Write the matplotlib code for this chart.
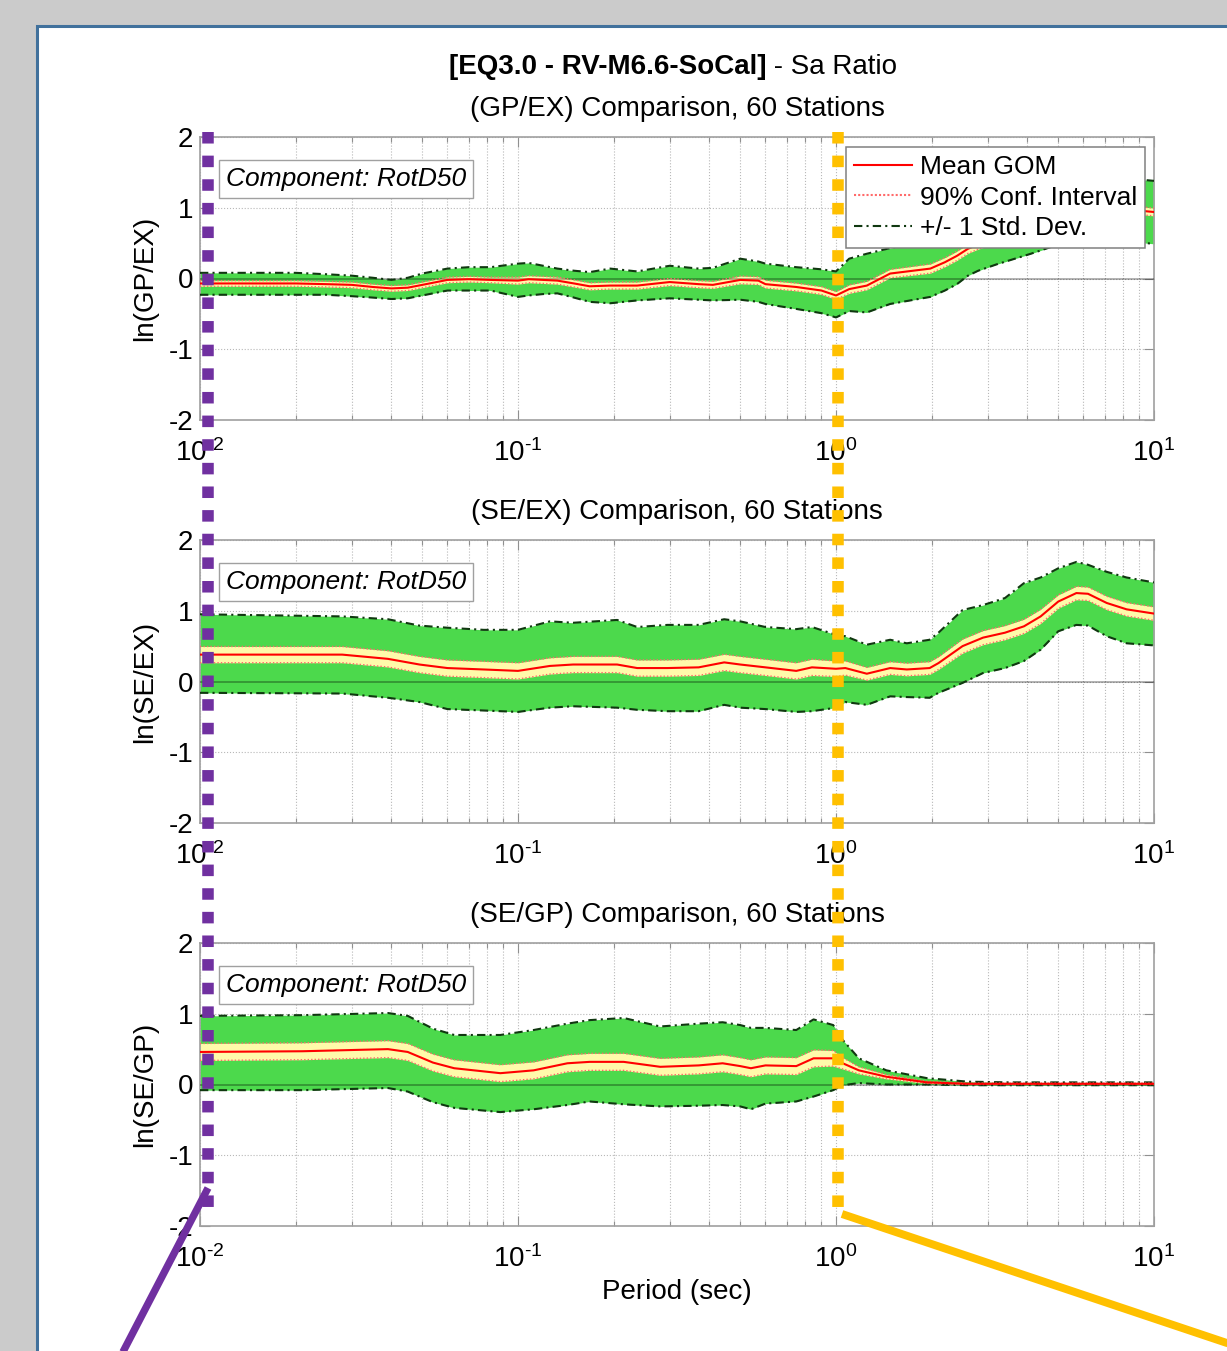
import matplotlib
matplotlib.use("Agg")
import matplotlib.pyplot as plt
from matplotlib.lines import Line2D
from matplotlib.patches import Rectangle
from matplotlib.ticker import LogLocator, NullFormatter

plt.rcParams["font.family"] = ["Liberation Sans", "DejaVu Sans"]
plt.rcParams["mathtext.fontset"] = "custom"
plt.rcParams["mathtext.rm"] = "Liberation Sans"
plt.rcParams["mathtext.it"] = "Liberation Sans:italic"
plt.rcParams["mathtext.bf"] = "Liberation Sans:bold"

# --- GP/EX ---
gpex_T = [0.01, 0.015, 0.02, 0.025, 0.03, 0.035, 0.04, 0.045, 0.05, 0.06, 0.07, 0.082,
          0.1, 0.108, 0.12, 0.133, 0.15, 0.168, 0.195, 0.237, 0.3, 0.37, 0.41, 0.5,
          0.57, 0.6, 0.75, 0.9, 1.0, 1.1, 1.25, 1.48, 1.98, 2.2, 2.4, 2.6, 2.8, 3.2,
          4.1, 5.0, 6.0, 7.0, 8.0, 10.0]
gpex_mean = [-0.07, -0.07, -0.07, -0.08, -0.09, -0.12, -0.14, -0.13, -0.09, -0.02, -0.01, -0.02,
             -0.03, -0.01, -0.02, -0.03, -0.07, -0.11, -0.10, -0.10, -0.05, -0.08, -0.09, -0.02,
             -0.03, -0.08, -0.12, -0.17, -0.24, -0.15, -0.10, 0.07, 0.14, 0.23, 0.32, 0.42, 0.48, 0.56,
             0.75, 0.92, 1.02, 1.02, 0.98, 0.94]
gpex_hi = [0.08, 0.08, 0.08, 0.06, 0.04, 0.01, -0.02, 0.01, 0.07, 0.14, 0.16, 0.16,
           0.21, 0.22, 0.18, 0.14, 0.11, 0.09, 0.14, 0.10, 0.18, 0.14, 0.15, 0.28,
           0.24, 0.21, 0.16, 0.13, 0.10, 0.28, 0.35, 0.43, 0.55, 0.65, 0.75, 0.85, 0.92, 1.00,
           1.20, 1.38, 1.48, 1.48, 1.42, 1.38]
gpex_lo = [-0.23, -0.23, -0.23, -0.23, -0.25, -0.27, -0.29, -0.28, -0.24, -0.17, -0.17, -0.17,
           -0.26, -0.24, -0.22, -0.21, -0.27, -0.33, -0.35, -0.31, -0.28, -0.30, -0.31, -0.30,
           -0.33, -0.36, -0.43, -0.49, -0.55, -0.46, -0.48, -0.36, -0.26, -0.17, -0.08, 0.04, 0.11, 0.20,
           0.35, 0.48, 0.57, 0.57, 0.53, 0.49]
gpex_ci = [0.04, 0.04, 0.04, 0.04, 0.04, 0.04, 0.04, 0.04, 0.04, 0.04, 0.04, 0.04,
           0.05, 0.05, 0.05, 0.05, 0.05, 0.05, 0.05, 0.05, 0.05, 0.05, 0.05, 0.055,
           0.055, 0.055, 0.055, 0.055, 0.055, 0.06, 0.06, 0.06, 0.065, 0.065, 0.065, 0.065, 0.065, 0.065,
           0.06, 0.06, 0.06, 0.06, 0.055, 0.055]

# --- SE/EX ---
seex_T = [0.01, 0.028, 0.039, 0.049, 0.06, 0.078, 0.1, 0.126, 0.149, 0.205, 0.237, 0.295,
          0.37, 0.445, 0.5, 0.6, 0.75, 0.84, 1.0, 1.07, 1.25, 1.48, 1.67, 1.97, 2.1,
          2.5, 2.9, 3.4, 3.9, 4.4, 5.0, 5.7, 6.2, 7.1, 8.2, 10.0]
seex_mean = [0.38, 0.38, 0.32, 0.24, 0.19, 0.17, 0.15, 0.22, 0.24, 0.24, 0.19, 0.19,
             0.20, 0.27, 0.24, 0.20, 0.15, 0.20, 0.18, 0.19, 0.11, 0.19, 0.17, 0.19, 0.26,
             0.50, 0.62, 0.69, 0.78, 0.92, 1.13, 1.25, 1.24, 1.11, 1.02, 0.96]
seex_hi = [0.95, 0.92, 0.88, 0.79, 0.76, 0.73, 0.73, 0.85, 0.83, 0.87, 0.77, 0.80,
           0.80, 0.88, 0.85, 0.77, 0.74, 0.77, 0.66, 0.64, 0.52, 0.59, 0.54, 0.59, 0.69,
           1.01, 1.08, 1.18, 1.39, 1.47, 1.60, 1.69, 1.65, 1.55, 1.47, 1.40]
seex_lo = [-0.16, -0.17, -0.23, -0.29, -0.39, -0.41, -0.43, -0.37, -0.35, -0.37, -0.40, -0.42,
           -0.42, -0.33, -0.37, -0.39, -0.43, -0.42, -0.37, -0.29, -0.33, -0.21, -0.22, -0.23, -0.16,
           -0.02, 0.12, 0.19, 0.29, 0.45, 0.71, 0.80, 0.79, 0.64, 0.54, 0.51]
seex_ci = [0.115, 0.115, 0.115, 0.115, 0.115, 0.115, 0.115, 0.115, 0.115, 0.115, 0.115, 0.115,
           0.115, 0.115, 0.115, 0.115, 0.115, 0.115, 0.11, 0.10, 0.09, 0.09, 0.09, 0.09, 0.09,
           0.10, 0.10, 0.10, 0.10, 0.10, 0.095, 0.095, 0.095, 0.095, 0.095, 0.095]

# --- SE/GP ---
segp_T = [0.01, 0.021, 0.039, 0.045, 0.054, 0.063, 0.088, 0.112, 0.143, 0.168, 0.215, 0.28,
          0.37, 0.44, 0.5, 0.54, 0.6, 0.75, 0.85, 0.98, 1.05, 1.18, 1.44, 1.93, 2.6,
          3.5, 5.0, 7.0, 10.0]
segp_mean = [0.46, 0.47, 0.50, 0.46, 0.31, 0.23, 0.16, 0.20, 0.30, 0.32, 0.32, 0.25,
             0.27, 0.30, 0.26, 0.23, 0.27, 0.26, 0.37, 0.37, 0.30, 0.20, 0.11, 0.03, 0.01,
             0.01, 0.01, 0.01, 0.01]
segp_hi = [0.97, 0.98, 1.01, 0.97, 0.79, 0.70, 0.70, 0.77, 0.86, 0.91, 0.94, 0.82,
           0.86, 0.88, 0.84, 0.80, 0.80, 0.77, 0.92, 0.84, 0.63, 0.37, 0.20, 0.09, 0.04,
           0.03, 0.03, 0.03, 0.03]
segp_lo = [-0.08, -0.08, -0.05, -0.10, -0.25, -0.33, -0.39, -0.35, -0.29, -0.24, -0.28, -0.31,
           -0.30, -0.29, -0.31, -0.35, -0.27, -0.24, -0.17, -0.08, -0.01, 0.02, 0.00, 0.00, -0.01,
           -0.01, -0.01, -0.01, -0.01]
segp_ci = [0.12, 0.12, 0.12, 0.12, 0.12, 0.12, 0.12, 0.12, 0.12, 0.12, 0.12, 0.12,
           0.12, 0.12, 0.12, 0.12, 0.12, 0.12, 0.12, 0.11, 0.08, 0.05, 0.03, 0.015, 0.01,
           0.01, 0.01, 0.01, 0.01]

titles = ["(GP/EX) Comparison, 60 Stations",
          "(SE/EX) Comparison, 60 Stations",
          "(SE/GP) Comparison, 60 Stations"]
ylabels = ["ln(GP/EX)", "ln(SE/EX)", "ln(SE/GP)"]
panels = [
    (gpex_T, gpex_mean, gpex_hi, gpex_lo, gpex_ci),
    (seex_T, seex_mean, seex_hi, seex_lo, seex_ci),
    (segp_T, segp_mean, segp_hi, segp_lo, segp_ci),
]
x_ticks = [0.01, 0.1, 1, 10]
x_ticklabels = [r"$10^{\text{-2}}$", r"$10^{\text{-1}}$", r"$10^{\text{0}}$", r"$10^{\text{1}}$"]
y_ticks = [-2, -1, 0, 1, 2]
y_ticklabels = ["-2", "-1", "0", "1", "2"]

GREEN = "#4CD94C"
YELLOW = "#FFFAAA"
DKGREEN = "#103810"
CI_RED = "#FF6A6A"
FRAME = "#A0A0A0"
PURPLE = "#7030A0"
ORANGE = "#FFC000"

W, H = 1227, 1351
fig = plt.figure(figsize=(W / 100, H / 100), dpi=100, facecolor="#CBCBCB")

# white panel with blue border
fig.add_artist(Rectangle((36.5 / W, -0.1), 2.0, 1.1 - 26.5 / H, transform=fig.transFigure,
                         fc="white", ec="#41719C", lw=2.2, zorder=-10))

AX_L, AX_W, AX_H = 200, 954, 283
tops = [137, 540, 943]
axes = []
for i, (top, (T, mean, hi, lo, ci)) in enumerate(zip(tops, panels)):
    ax = fig.add_axes([AX_L / W, 1 - (top + AX_H) / H, AX_W / W, AX_H / H])
    axes.append(ax)
    ax.set_xscale("log")
    ax.set_xlim(0.01, 10)
    ax.set_ylim(-2, 2)

    ci_lo = [m - c for m, c in zip(mean, ci)]
    ci_hi = [m + c for m, c in zip(mean, ci)]
    ax.fill_between(T, lo, hi, color=GREEN, lw=0, zorder=1)
    ax.fill_between(T, ci_lo, ci_hi, color=YELLOW, lw=0, zorder=2)
    ax.axhline(0, color="k", alpha=0.35, lw=1.2, zorder=3)
    ax.plot(T, hi, color=DKGREEN, lw=1.5, dashes=(4, 2, 1, 2), zorder=4)
    ax.plot(T, lo, color=DKGREEN, lw=1.5, dashes=(4, 2, 1, 2), zorder=4)
    ax.plot(T, ci_lo, color=CI_RED, lw=1.0, dashes=(1, 1.5), zorder=5)
    ax.plot(T, ci_hi, color=CI_RED, lw=1.0, dashes=(1, 1.5), zorder=5)
    ax.plot(T, mean, color="red", lw=1.5, zorder=6)

    ax.set_xticks(x_ticks)
    ax.set_xticklabels(x_ticklabels)
    ax.xaxis.set_minor_locator(LogLocator(base=10, subs=range(2, 10)))
    ax.xaxis.set_minor_formatter(NullFormatter())
    ax.set_yticks(y_ticks)
    ax.set_yticklabels(y_ticklabels)
    ax.grid(True, which="major", axis="both", ls=":", color="#B8B8B8", lw=0.8)
    ax.grid(True, which="minor", axis="x", ls=":", color="#B8B8B8", lw=0.8)
    ax.set_axisbelow(True)
    ax.tick_params(which="both", direction="in", top=True, right=True, color="#909090",
                   width=0.8, labelsize=20)
    ax.tick_params(which="major", length=7)
    ax.tick_params(which="minor", length=3.5)
    ax.tick_params(axis="x", pad=14)
    ax.tick_params(axis="y", pad=5)
    for sp in ax.spines.values():
        sp.set_color(FRAME)
        sp.set_linewidth(1.2)

    ax.set_title(titles[i], fontsize=20, pad=15)
    ax.set_ylabel(ylabels[i], fontsize=20, va="center")
    ax.yaxis.set_label_coords(-55 / AX_W, 0.5)
    ax.text(26 / AX_W, 1 - 42 / AX_H, "Component: RotD50", transform=ax.transAxes,
            fontsize=19, style="italic", ha="left", va="center", zorder=10,
            bbox=dict(boxstyle="square,pad=0.25", fc="white", ec=FRAME, lw=1.0))

axes[2].set_xlabel("Period (sec)", fontsize=20, va="center")
axes[2].xaxis.set_label_coords(0.5, -66 / AX_H)

handles = [
    Line2D([], [], color="red", lw=1.5),
    Line2D([], [], color=CI_RED, lw=1.5, dashes=(1, 1)),
    Line2D([], [], color=DKGREEN, lw=1.5, dashes=(4, 2, 1, 2)),
]
leg = axes[0].legend(handles, ["Mean GOM", "90% Conf. Interval", "+/- 1 Std. Dev."],
                     loc="upper right", bbox_to_anchor=(1 - 9 / AX_W, 1 - 10 / AX_H),
                     borderaxespad=0, fontsize=19, fancybox=False, framealpha=1,
                     edgecolor="#808080", handlelength=2.2, handletextpad=0.3,
                     labelspacing=0.25, borderpad=0.3)
leg.get_frame().set_linewidth(1.1)
leg.set_zorder(20)

# main title: bold run id followed by the plain quantity name
t1 = fig.text(449 / W, 1 - 74 / H, "[EQ3.0 - RV-M6.6-SoCal]", fontsize=20,
              weight="bold", ha="left", va="baseline")
axes[0].annotate(" - Sa Ratio", xy=(1, 0), xycoords=t1, fontsize=20,
                 ha="left", va="bottom")

# period markers and callout lines
fig.add_artist(Line2D([208 / W, 208 / W], [1 - 132 / H, 1 - 1215 / H], transform=fig.transFigure,
                      color=PURPLE, lw=8.3, dashes=(1, 1.05), dash_capstyle="butt", zorder=30))
fig.add_artist(Line2D([838 / W, 838 / W], [1 - 132 / H, 1 - 1215 / H], transform=fig.transFigure,
                      color=ORANGE, lw=8.3, dashes=(1, 1.05), dash_capstyle="butt", zorder=30))
fig.add_artist(Line2D([208 / W, 98 / W], [1 - 1188 / H, 1 - 1400 / H], transform=fig.transFigure,
                      color=PURPLE, lw=5.3, solid_capstyle="butt", zorder=30))
fig.add_artist(Line2D([842 / W, 1300 / W], [1 - 1214 / H, 1 - 1367.5 / H], transform=fig.transFigure,
                      color=ORANGE, lw=5.7, solid_capstyle="butt", zorder=30))

fig.savefig("out.png", dpi=100, facecolor=fig.get_facecolor())
